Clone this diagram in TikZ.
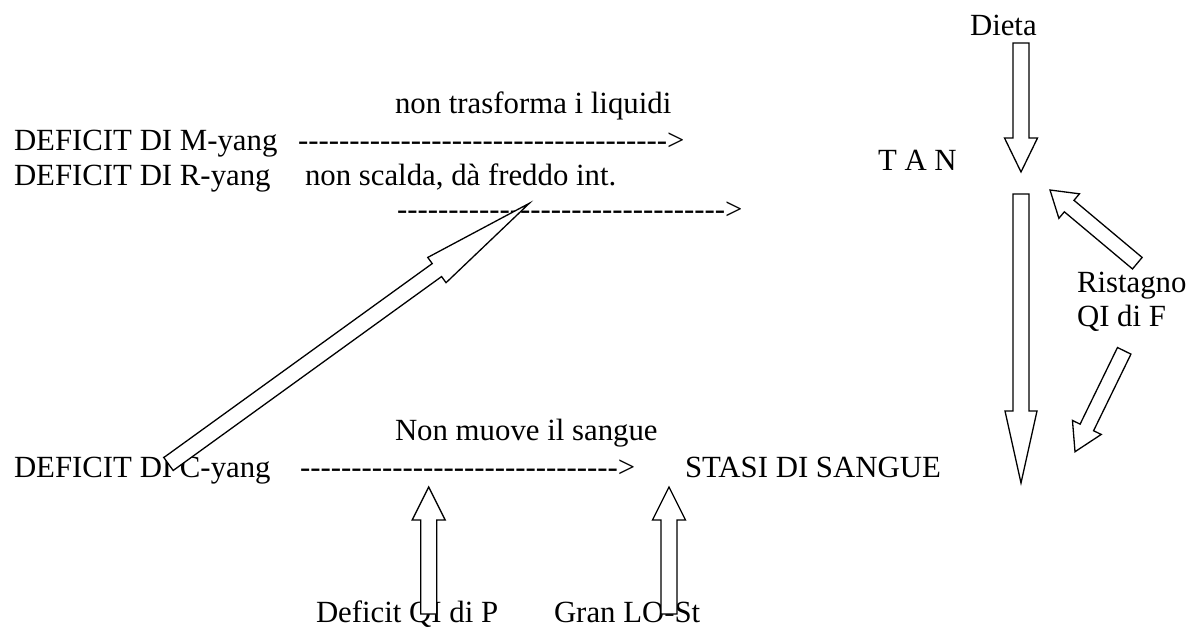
\documentclass[tikz,border=0pt]{standalone}
\usepackage{fontspec}
\setmainfont{Liberation Serif}[Ligatures=TeXOff]
\usetikzlibrary{calc}
\newcommand\blockarr[5]{%
  \coordinate (bah) at ($(#2)!#5!(#1)$);
  \draw[blockarrow] ($(#1)!#3!90:(#2)$) -- ($(bah)!#3!90:(#2)$) -- ($(bah)!#4!90:(#2)$) -- (#2)
    -- ($(bah)!#4!-90:(#2)$) -- ($(bah)!#3!-90:(#2)$) -- ($(#1)!#3!-90:(#2)$) -- cycle;
}
\begin{document}
\begin{tikzpicture}[x=1pt,y=-1pt,
  lbl/.style={anchor=base west,inner sep=0pt,outer sep=0pt,font=\fontsize{30.8}{35}\selectfont},
  blockarrow/.style={draw=black,fill=white,line width=1.3pt,line join=miter}]
\useasboundingbox (0,0) rectangle (1193,630);
% texts
\node[lbl] (dieta) at (970,35) {Dieta};
\node[lbl] (ntl) at (395,113) {non trasforma i liquidi};
\node[lbl] (myang) at (14,150) {DEFICIT DI M-yang};
\node[lbl] (d1) at (298,150) {------------------------------------>};
\node[lbl] (ryang) at (14,185) {DEFICIT DI R-yang};
\node[lbl] (nsc) at (305,185) {non scalda, dà freddo int.};
\node[lbl] (tan) at (878,170) {T A N};
\node[lbl] (d2) at (397,219) {-------------------------------->};
\node[lbl] (rist) at (1077,292) {Ristagno};
\node[lbl] (qif) at (1077,326) {QI di F};
\node[lbl] (nms) at (395,440) {Non muove il sangue};
\node[lbl] (cyang) at (14,477) {DEFICIT DI C-yang};
\node[lbl] (d3) at (300,477) {------------------------------->};
\node[lbl] (stasi) at (685,477) {STASI DI SANGUE};
\node[lbl] (dqp) at (316,622) {Deficit QI di P};
\node[lbl] (glo) at (554,622) {Gran LO-St};
% arrow end points
\coordinate (aT) at (1021,43);    \coordinate (aP) at (1021,172);
\coordinate (bT) at (1021,194);   \coordinate (bP) at (1021,483);
\coordinate (cT) at (1137.3,263.2); \coordinate (cP) at (1050,190);
\coordinate (dT) at (1124.2,350.8); \coordinate (dP) at (1075,451.7);
\coordinate (eT) at (168.5,464);  \coordinate (eP) at (529.3,203.3);
\coordinate (fT) at (428.7,614);  \coordinate (fP) at (428.7,487);
\coordinate (gT) at (669,614);    \coordinate (gP) at (669,487);
% block arrows
\blockarr{aT}{aP}{8pt}{16.5pt}{34pt}
\blockarr{bT}{bP}{8pt}{16pt}{72pt}
\blockarr{cT}{cP}{7.5pt}{16pt}{25pt}
\blockarr{dT}{dP}{7.5pt}{16pt}{27pt}
\blockarr{eT}{eP}{8pt}{15.6pt}{114pt}
\blockarr{fT}{fP}{8pt}{16.5pt}{33pt}
\blockarr{gT}{gP}{8pt}{16.5pt}{33pt}
\end{tikzpicture}
\end{document}
